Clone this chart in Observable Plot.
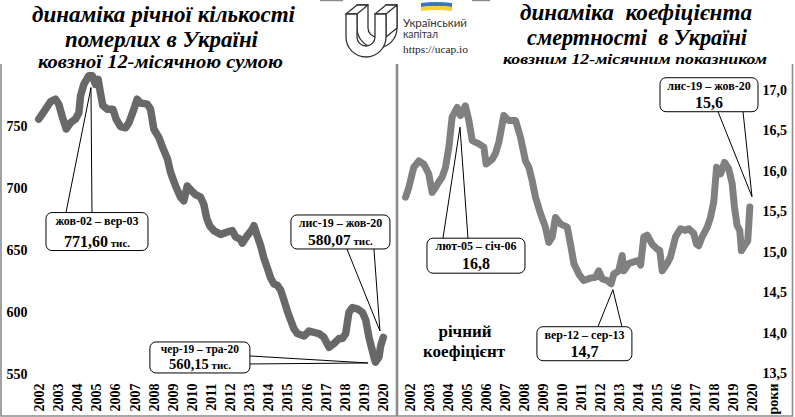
<!DOCTYPE html>
<html>
<head>
<meta charset="utf-8">
<script src="https://cdn.jsdelivr.net/npm/d3@7"></script>
<script src="https://cdn.jsdelivr.net/npm/@observablehq/plot@0.6"></script>
<style>
  html, body { margin: 0; padding: 0; background: #fff; }
  #wrap { position: relative; width: 795px; height: 417px; overflow: hidden; background: #fff; }
  #wrap > .panel { position: absolute; top: 64px; }
  #overlay { position: absolute; left: 0; top: 0; pointer-events: none; }
</style>
</head>
<body>
<div id="wrap">
  <div class="panel" id="left" style="left:0px"></div>
  <div class="panel" id="right" style="left:398px"></div>
  <svg id="overlay" width="795" height="417"></svg>
</div>
<script>
// ---------------- DATA ----------------
const years = [2002,2003,2004,2005,2006,2007,2008,2009,2010,2011,2012,2013,2014,2015,2016,2017,2018,2019,2020];

// Left: annual number of deaths, rolling 12-month sum (thousand)
const deathsT = [2001.96,2002.23,2002.58,2002.84,2003.01,2003.19,2003.40,2003.62,2003.88,2004.06,2004.15,2004.32,2004.58,2004.76,2004.93,2005.07,2005.19,2005.31,2005.54,2005.84,2006.01,2006.24,2006.50,2006.68,2006.94,2007.11,2007.29,2007.64,2007.81,2007.98,2008.25,2008.42,2008.69,2008.86,2009.12,2009.38,2009.55,2009.73,2009.90,2010.17,2010.43,2010.60,2010.75,2010.90,2011.13,2011.48,2011.83,2012.09,2012.26,2012.52,2012.61,2012.87,2013.13,2013.22,2013.39,2013.57,2013.74,2013.92,2014.09,2014.27,2014.44,2014.62,2014.79,2014.97,2015.14,2015.31,2015.49,2015.84,2016.10,2016.36,2016.62,2016.88,2017.15,2017.41,2017.67,2017.85,2018.02,2018.19,2018.37,2018.63,2018.90,2019.07,2019.24,2019.37,2019.50,2019.58,2019.76,2019.85,2019.99];
const deathsV = [756,762,770,772,768,758,748,753,756,761,775,784,791,791,784,788,777,767,764,764,756,750,749,753,764,772,769,768,764,748,741,734,724,713,702,693,690,702,699,695,693,687,676,670,666,663,665,666,661,659,656,662,667,670,662,654,644,636,628,623,622,618,610,601,594,587,583,581,585,584,583,580,572,575,579,579,583,600,604,603,600,594,580,572,564,560,564,573,580];
const deathsTicks = [550,600,650,700,750];

// Right: mortality rate, rolling 12-month (per 1000)
const rateT = [2001.74,2001.91,2002.17,2002.44,2002.70,2002.96,2003.14,2003.32,2003.49,2003.67,2003.84,2004.02,2004.19,2004.46,2004.63,2004.89,2005.07,2005.25,2005.60,2005.86,2005.98,2006.30,2006.47,2006.65,2006.91,2007.17,2007.53,2007.79,2008.05,2008.23,2008.40,2008.58,2008.84,2009.10,2009.28,2009.46,2009.63,2009.89,2010.25,2010.42,2010.60,2010.86,2011.12,2011.47,2011.74,2011.91,2012.09,2012.35,2012.56,2012.70,2012.96,2013.14,2013.23,2013.49,2013.75,2014.02,2014.11,2014.28,2014.46,2014.72,2014.98,2015.12,2015.25,2015.51,2015.68,2015.95,2016.21,2016.47,2016.65,2016.91,2017.05,2017.17,2017.35,2017.62,2017.79,2017.96,2018.11,2018.32,2018.53,2018.75,2018.93,2019.05,2019.19,2019.33,2019.42,2019.63,2019.75,2019.86];
const rateV = [15.68,15.80,16.05,16.13,16.09,15.97,15.74,15.80,15.87,15.93,16.05,16.30,16.67,16.79,16.69,16.81,16.63,16.38,16.34,16.30,16.09,16.15,16.22,16.36,16.69,16.63,16.63,16.42,16.13,16.05,15.89,15.68,15.48,15.31,15.12,15.19,15.43,15.35,15.31,15.10,14.86,14.73,14.65,14.68,14.69,14.77,14.67,14.65,14.61,14.73,14.77,14.96,14.77,14.86,14.88,14.90,14.84,15.19,15.21,15.10,15.04,15.02,14.77,14.86,14.94,15.19,15.29,15.27,15.29,15.23,15.10,15.08,15.19,15.31,15.43,15.62,16.05,15.97,16.11,16.03,15.85,15.56,15.33,15.27,15.02,15.10,15.14,15.56];
const rateTicks = [13.5,14.0,14.5,15.0,15.5,16.0,16.5,17.0];

// Callout annotations (anchor in data units + label text)
const deathsNoteT = [2004.72, 2019.84, 2019.21];
const deathsNoteV = [781, 584.7, 558.9];
const deathsNotePeriod = ["жов-02 – вер-03", "лис-19 – жов-20", "чер-19 – тра-20"];
const deathsNoteValue = ["771,60", "580,07", "560,15"];
const rateNoteT = [2004.63, 2012.68, 2020.0];
const rateNoteV = [16.54, 14.53, 15.68];
const rateNotePeriod = ["лют-05 – січ-06", "вер-12 – сер-13", "лис-19 – жов-20"];
const rateNoteValue = ["16,8", "14,7", "15,6"];

// ---------------- LAYOUT / STYLE ----------------
const SERIF = "'Liberation Serif', 'DejaVu Serif', serif";
// box geometry relative to the anchor (px): left, top, width, height, side of wedge, wedge base offsets
const deathsBoxes = [
  {dx:-45, dy:125, w:102, h:38, side:"top", b:[-25, 1], f1: 12, f2: 16},
  {dx:-89, dy:-116, w:99, h:34, side:"bottom", b:[-33, -6], f1: 12, f2: 15.5},
  {dx:-218, dy:-21, w:100, h:31, side:"right", b:[-7, 1], f1: 11.5, f2: 14.5}
];
const rateBoxes = [
  {dx:-33, dy:111, w:98, h:35, side:"top", b:[-17, 8], f1: 12, f2: 16},
  {dx:-76, dy:37, w:95, h:34, side:"top", b:[-15, 9], f1: 12, f2: 16},
  {dx:-92, dy:-119, w:98, h:34, side:"bottom", b:[-34, -9], f1: 12, f2: 16}
];

const deathsRows = deathsT.map((t, i) => ({t, v: deathsV[i]}));
const rateRows = rateT.map((t, i) => ({t, v: rateV[i]}));

const baseStyle = {fontFamily: SERIF, fontSize: "14px", fontWeight: "bold", color: "#000", background: "transparent", overflow: "visible"};

const leftPlot = Plot.plot({
  width: 397, height: 353,
  marginLeft: 39, marginRight: 14, marginTop: 0, marginBottom: 43,
  style: baseStyle,
  x: {domain: [2002, 2020], ticks: years, tickFormat: d => String(d), tickRotate: -90, tickSize: 0, tickPadding: 9, label: null},
  y: {domain: [550, 800], ticks: deathsTicks, tickFormat: d => String(d), tickSize: 0, tickPadding: 12, label: null},
  marks: [
    Plot.line(deathsRows, {x: "t", y: "v", stroke: "#686868", strokeWidth: 7.5, strokeLinejoin: "round", strokeLinecap: "round"})
  ]
});
document.getElementById("left").appendChild(leftPlot);

const rightPlot = Plot.plot({
  width: 397, height: 353,
  marginLeft: 12, marginRight: 43, marginTop: 26, marginBottom: 44,
  style: baseStyle,
  x: {domain: [2002, 2020], ticks: [...years, 2021.1], tickFormat: d => d > 2020.5 ? "роки" : String(d), tickRotate: -90, tickSize: 0, tickPadding: 10, label: null},
  y: {domain: [13.5, 17], ticks: rateTicks, tickFormat: d => d.toFixed(1).replace(".", ","), axis: "right", tickSize: 0, tickPadding: 10, label: null},
  marks: [
    Plot.line(rateRows, {x: "t", y: "v", stroke: "#808080", strokeWidth: 7, strokeLinejoin: "round", strokeLinecap: "round"})
  ]
});
document.getElementById("right").appendChild(rightPlot);

// ---------------- CALLOUTS ----------------
function addCallouts(plot, ts, vs, periods, values, unit, boxes) {
  const sx = plot.scale("x"), sy = plot.scale("y");
  const svg = d3.select(plot);
  const g = svg.append("g").attr("font-family", SERIF).attr("font-weight", "bold");
  ts.forEach((t, i) => {
    const px = sx.apply(t), py = sy.apply(vs[i]);
    const b = boxes[i];
    const L = px + b.dx, T = py + b.dy;
    let p1, p2;
    if (b.side === "top") { p1 = [px + b.b[0], T]; p2 = [px + b.b[1], T]; }
    else if (b.side === "bottom") { p1 = [px + b.b[0], T + b.h]; p2 = [px + b.b[1], T + b.h]; }
    else { p1 = [L + b.w, py + b.b[0]]; p2 = [L + b.w, py + b.b[1]]; }
    g.append("rect").attr("x", L).attr("y", T).attr("width", b.w).attr("height", b.h)
      .attr("rx", 6).attr("fill", "#fff").attr("stroke", "#000").attr("stroke-width", 1);
    g.append("path").attr("d", `M${p1[0]},${p1[1]}L${px},${py}L${p2[0]},${p2[1]}`)
      .attr("fill", "none").attr("stroke", "#000").attr("stroke-width", 1);
    const cx = L + b.w / 2;
    g.append("text").attr("x", cx).attr("y", T + b.f1).attr("text-anchor", "middle")
      .attr("font-size", b.f1).text(periods[i]);
    const t2 = g.append("text").attr("x", cx).attr("y", T + b.h - 4).attr("text-anchor", "middle");
    t2.append("tspan").attr("font-size", b.f2).text(values[i]);
    if (unit) t2.append("tspan").attr("font-size", 11).text(" " + unit);
  });
}
addCallouts(leftPlot, deathsNoteT, deathsNoteV, deathsNotePeriod, deathsNoteValue, "тис.", deathsBoxes);
addCallouts(rightPlot, rateNoteT, rateNoteV, rateNotePeriod, rateNoteValue, null, rateBoxes);

// ---------------- OVERLAY: frame, titles, logo ----------------
const ov = d3.select("#overlay");
const frameColor = "#8c8c8c";
ov.append("path").attr("d", "M1,64V416H396.5V64 M397.5,64V416H792.5V64")
  .attr("fill", "none").attr("stroke", frameColor).attr("stroke-width", 1.6);

function title(x, y, txt, size, len) {
  ov.append("text").attr("x", x).attr("y", y).attr("text-anchor", "middle")
    .attr("font-family", SERIF).attr("font-weight", "bold").attr("font-style", "italic")
    .attr("font-size", size).attr("textLength", len).attr("lengthAdjust", "spacingAndGlyphs")
    .style("white-space", "pre").text(txt);
}
title(163.5, 21.5, "динаміка річної кількості", 23, 263);
title(161.5, 46.5, "померлих в Україні", 23, 193);
title(160.5, 67.5, "ковзної 12-місячною сумою", 18, 245);
title(636, 20, "динаміка  коефіцієнта", 23, 232);
title(637, 45, "смертності  в Україні", 23, 220);
title(635, 63.5, "ковзним 12-місячним показником", 15, 264);

// "річний коефіцієнт"
ov.append("text").attr("x", 465).attr("y", 337).attr("text-anchor", "middle")
  .attr("font-family", SERIF).attr("font-weight", "bold").attr("font-size", 17).text("річний");
ov.append("text").attr("x", 464).attr("y", 357).attr("text-anchor", "middle")
  .attr("font-family", SERIF).attr("font-weight", "bold").attr("font-size", 17)
  .attr("textLength", 82).attr("lengthAdjust", "spacingAndGlyphs").text("коефіцієнт");

// logo
const logo = ov.append("g");
logo.append("rect").attr("x", 343).attr("y", 0).attr("width", 129).attr("height", 57).attr("fill", "#fff");
logo.append("path").attr("d", "M320,0.5H343 M472,0.5H490").attr("stroke", frameColor).attr("stroke-width", 1.5);
const uPath = "M346,14H357V37A9,9 0 0 0 375,37V14H386V37A20,20 0 0 1 346,37Z";
logo.append("path").attr("d", uPath).attr("transform", "translate(11,-9)").attr("fill", "#fff").attr("stroke", "#333").attr("stroke-width", 1.3);
logo.append("path").attr("d", "M346,14L357,5H368L357,14Z M375,14L386,5H397L386,14Z M386,14L397,5V28L386,37Z M375,37L386,28")
  .attr("fill", "#fff").attr("stroke", "#333").attr("stroke-width", 1.3).attr("stroke-linejoin", "round");
logo.append("path").attr("d", uPath).attr("fill", "#fff").attr("stroke", "#333").attr("stroke-width", 1.3);
logo.append("path").attr("d", "M421,3Q436,1 452,3V7Q436,5 421,7Z").attr("fill", "#3b73c6");
logo.append("path").attr("d", "M421,7Q436,5 452,7V11Q436,9 421,11Z").attr("fill", "#f5d327");
logo.append("text").attr("x", 403).attr("y", 27).attr("font-family", "Lato, 'Open Sans', sans-serif").attr("font-size", 10.5)
  .attr("fill", "#333").attr("textLength", 64).attr("lengthAdjust", "spacingAndGlyphs").text("Український");
logo.append("text").attr("x", 403).attr("y", 38).attr("font-family", "Lato, 'Open Sans', sans-serif").attr("font-size", 10.5)
  .attr("fill", "#333").attr("textLength", 35).attr("lengthAdjust", "spacingAndGlyphs").text("капітал");
logo.append("text").attr("x", 403).attr("y", 53).attr("font-family", SERIF).attr("font-size", 10.5)
  .attr("fill", "#222").attr("textLength", 65).attr("lengthAdjust", "spacingAndGlyphs").text("https://ucap.io");
</script>
</body>
</html>
